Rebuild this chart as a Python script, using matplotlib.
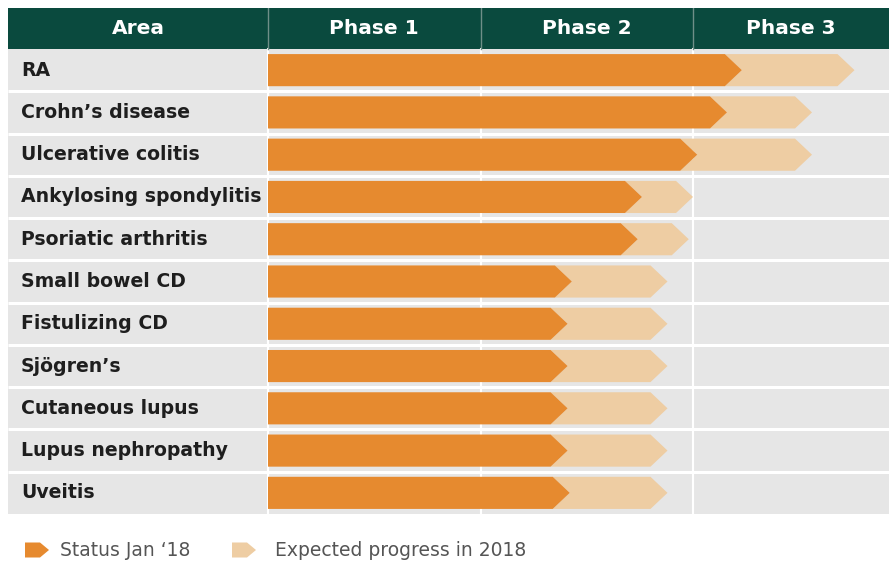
import matplotlib
matplotlib.use("Agg")
import matplotlib.pyplot as plt
from matplotlib.patches import Polygon, Rectangle

# ---- data ----
areas = ["RA", "Crohn\u2019s disease", "Ulcerative colitis", "Ankylosing spondylitis",
         "Psoriatic arthritis", "Small bowel CD", "Fistulizing CD", "Sj\u00f6gren\u2019s",
         "Cutaneous lupus", "Lupus nephropathy", "Uveitis"]
# progress measured in phases (0 = start of Phase 1, 1 = start of Phase 2, ...)
status_jan18 = [2.23, 2.16, 2.02, 1.76, 1.74, 1.43, 1.41, 1.41, 1.41, 1.41, 1.42]
expected_2018 = [2.76, 2.56, 2.56, 2.00, 1.98, 1.88, 1.88, 1.88, 1.88, 1.88, 1.88]
headers = ["Area", "Phase 1", "Phase 2", "Phase 3"]
legend_labels = ["Status Jan \u201818", "Expected progress in 2018"]

# ---- style ----
W, H = 891, 563
DARK_GREEN = "#0a4a3e"
ORANGE = "#e68a2f"
LIGHT = "#eecda3"
BG = "#e6e6e6"
TEXT = "#1e1e1e"

fig = plt.figure(figsize=(W / 100, H / 100), dpi=100)
fig.patch.set_facecolor("white")

left_px, right_px, top_px, bot_px = 8, 889, 8, 514
ax = fig.add_axes([left_px / W, 1 - bot_px / H, (right_px - left_px) / W, (bot_px - top_px) / H])
x0_px, unit_px = 268, 212.5
xmin = (left_px - x0_px) / unit_px
xmax = (right_px - x0_px) / unit_px
n = len(areas)
hdr = 0.97
ax.set_xlim(xmin, xmax)
ax.set_ylim(n, -hdr)
ax.axis("off")

# backgrounds
ax.add_patch(Rectangle((xmin, 0), xmax - xmin, n, facecolor=BG, edgecolor="none", zorder=0))
ax.add_patch(Rectangle((xmin, -hdr), xmax - xmin, hdr, facecolor=DARK_GREEN, edgecolor="none", zorder=0))

# grid lines
for i in range(1, n):
    ax.plot([xmin, xmax], [i, i], color="white", lw=2.2, zorder=1, solid_capstyle="butt")
for xv in [0, 1, 2]:
    ax.plot([xv, xv], [0, n], color="white", lw=1.5, zorder=1)
    ax.plot([xv, xv], [-hdr, 0], color="#6f8f88", lw=1.0, zorder=1)

# headers
hdr_centers = [(xmin + 0) / 2, 0.5, 1.5, (2 + xmax) / 2]
for c, h in zip(hdr_centers, headers):
    ax.text(c, -hdr / 2, h, color="white", fontsize=14.5, fontweight="bold",
            ha="center", va="center", family="DejaVu Sans")

# labels
lab_x = (21 - x0_px) / unit_px
for i, a in enumerate(areas):
    ax.text(lab_x, i + 0.5, a, color=TEXT, fontsize=13.6, fontweight="bold",
            ha="left", va="center", family="DejaVu Sans")

# arrows
bh = 0.76
tip = 0.08
for i, (s, e) in enumerate(zip(status_jan18, expected_2018)):
    yc = i + 0.5
    yt, yb = yc - bh / 2, yc + bh / 2
    light = Polygon([(s - tip, yt), (e - tip, yt), (e, yc), (e - tip, yb), (s - tip, yb), (s, yc)],
                    closed=True, facecolor=LIGHT, edgecolor="none", zorder=2)
    dark = Polygon([(0, yt), (s - tip, yt), (s, yc), (s - tip, yb), (0, yb)],
                   closed=True, facecolor=ORANGE, edgecolor="none", zorder=3)
    ax.add_patch(light)
    ax.add_patch(dark)

# legend
def marker(xl, color):
    yc = 1 - 550 / H
    hh = 7.5 / H
    w = 24 / W
    t = 9 / W
    pts = [(xl / W, yc + hh), (xl / W + w - t, yc + hh), (xl / W + w, yc),
           (xl / W + w - t, yc - hh), (xl / W, yc - hh)]
    fig.patches.append(Polygon(pts, closed=True, transform=fig.transFigure,
                               facecolor=color, edgecolor="none"))

marker(25, ORANGE)
marker(232, LIGHT)
fig.text(60 / W, 1 - 550 / H, legend_labels[0], fontsize=13.5, color="#555555",
         ha="left", va="center", family="DejaVu Sans")
fig.text(275 / W, 1 - 550 / H, legend_labels[1], fontsize=13.5, color="#555555",
         ha="left", va="center", family="DejaVu Sans")

fig.savefig("out.png", dpi=100, facecolor="white")
